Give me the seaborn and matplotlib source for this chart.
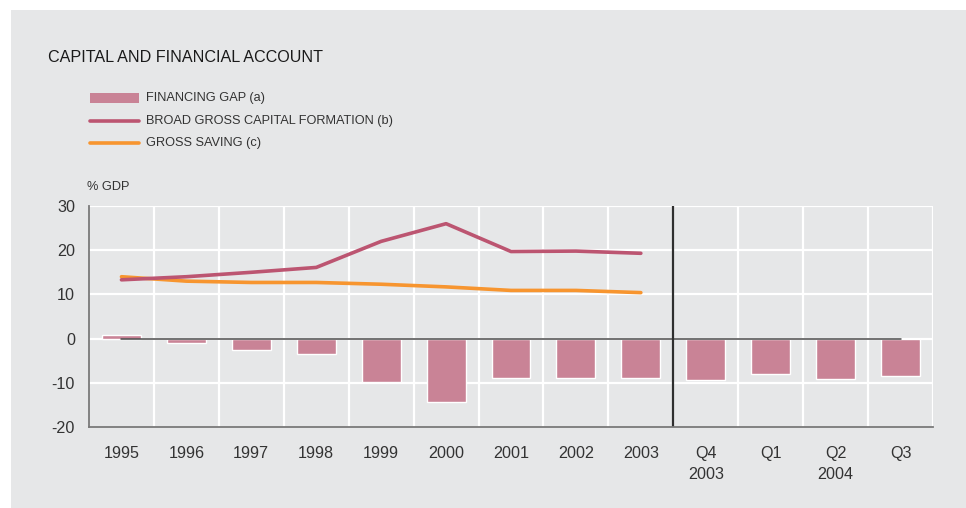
import matplotlib
matplotlib.use("Agg")
import matplotlib.pyplot as plt
from matplotlib.patches import Rectangle
from matplotlib.lines import Line2D
import seaborn as sns
import pandas as pd
import numpy as np

# Periods: annual 1995-2003, then quarterly Q4 2003 - Q3 2004
periods = ["1995", "1996", "1997", "1998", "1999", "2000", "2001", "2002", "2003",
           "Q4 2003", "Q1 2004", "Q2 2004", "Q3 2004"]
tick_labels = ["1995", "1996", "1997", "1998", "1999", "2000", "2001", "2002", "2003",
               "Q4\n2003", "Q1", "Q2\n2004", "Q3"]

# Financing gap (% GDP)
financing_gap = [0.8, -1.0, -2.6, -3.5, -9.9, -14.4, -9.0, -9.0, -9.0,
                 -9.3, -8.1, -9.05, -8.5]

# Annual series (% GDP)
years = ["1995", "1996", "1997", "1998", "1999", "2000", "2001", "2002", "2003"]
capital_formation = [13.3, 14.0, 15.0, 16.1, 22.0, 26.0, 19.7, 19.8, 19.3]
gross_saving = [14.0, 13.0, 12.7, 12.7, 12.3, 11.7, 10.9, 10.9, 10.4]

BG = "#e6e7e8"
BAR = "#c98396"
BGCF = "#bc5571"
SAV = "#f7952f"
TXT = "#333333"

sns.set_theme(style="white")
plt.rcParams["font.family"] = ["Liberation Sans", "DejaVu Sans"]

W, H = 966, 508
fig = plt.figure(figsize=(W / 100, H / 100), dpi=100, facecolor="white")
fig.add_artist(Rectangle((11 / W, 0), 1 - 11 / W, 1 - 10 / H, transform=fig.transFigure,
                         facecolor=BG, edgecolor="none", zorder=0))

ax = fig.add_axes([89 / W, (H - 427) / H, 844 / W, 221 / H])
ax.set_facecolor(BG)

gap_df = pd.DataFrame({"period": periods, "gap": financing_gap})
sns.barplot(data=gap_df, x="period", y="gap", order=periods, color=BAR,
            saturation=1, width=0.6, ax=ax, zorder=3)

pos = {p: i for i, p in enumerate(periods)}
line_df = pd.DataFrame({
    "x": [pos[y] for y in years] * 2,
    "value": capital_formation + gross_saving,
    "series": ["BROAD GROSS CAPITAL FORMATION (b)"] * len(years) + ["GROSS SAVING (c)"] * len(years),
})
sns.lineplot(data=line_df, x="x", y="value", hue="series",
             palette={"BROAD GROSS CAPITAL FORMATION (b)": BGCF, "GROSS SAVING (c)": SAV},
             hue_order=["GROSS SAVING (c)", "BROAD GROSS CAPITAL FORMATION (b)"],
             linewidth=2.6, legend=False, ax=ax, zorder=5)

n = len(periods)
ax.set_xlim(-0.5, n - 0.5)
ax.set_ylim(-20, 30)

# white grid
for yv in [-10, 0, 10, 20, 30]:
    ax.axhline(yv, color="white", lw=1.6, zorder=1)
for k in range(1, n + 1):
    ax.axvline(k - 0.5, color="white", lw=1.6, zorder=1)

# zero line across the data span and separator between annual and quarterly data
ax.plot([0, n - 1], [0, 0], color="#4a4a4a", lw=1.1, zorder=4)
ax.axvline(len(years) - 0.5, color="#2f2f2f", lw=1.6, zorder=6)

for s in ["top", "right"]:
    ax.spines[s].set_visible(False)
for s in ["left", "bottom"]:
    ax.spines[s].set_color("#7a7a7a")
    ax.spines[s].set_linewidth(1.3)
    ax.spines[s].set_zorder(7)

ax.set_yticks([-20, -10, 0, 10, 20, 30])
ax.set_yticklabels(["-20", "-10", "0", "10", "20", "30"])
ax.set_xticks(range(n))
ax.set_xticklabels(tick_labels)
ax.tick_params(axis="y", length=0, pad=10, labelsize=11.6, labelcolor=TXT)
ax.tick_params(axis="x", length=0, pad=13.5, labelsize=11.6, labelcolor=TXT)
for t in ax.get_xticklabels():
    t.set_linespacing(1.55)
ax.set_xlabel("")
ax.set_ylabel("")

fig.text(87 / W, 1 - 187 / H, "% GDP", fontsize=9.2, color=TXT, ha="left", va="center")
fig.text(48 / W, 1 - 57 / H, "CAPITAL AND FINANCIAL ACCOUNT", fontsize=11.6,
         color="#1a1a1a", ha="left", va="center")

# legend
leg_items = [("bar", BAR, "FINANCING GAP (a)", 98),
             ("line", BGCF, "BROAD GROSS CAPITAL FORMATION (b)", 121),
             ("line", SAV, "GROSS SAVING (c)", 143)]
for kind, col, label, yy in leg_items:
    if kind == "bar":
        fig.add_artist(Rectangle((90 / W, 1 - (yy + 5) / H), 49 / W, 10 / H,
                                 transform=fig.transFigure, facecolor=col, edgecolor="none"))
    else:
        fig.add_artist(Line2D([90 / W, 139 / W], [1 - yy / H, 1 - yy / H],
                              transform=fig.transFigure, color=col, lw=2.6))
    fig.text(146 / W, 1 - yy / H, label, fontsize=9.2, color=TXT, ha="left", va="center")

fig.savefig("out.png", dpi=100, facecolor="white")
